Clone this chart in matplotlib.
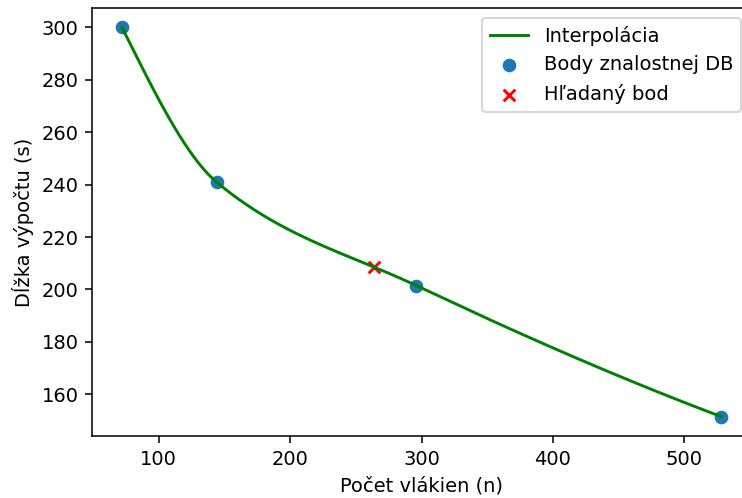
import numpy as np
import matplotlib
matplotlib.use("Agg")
import matplotlib.pyplot as plt

# body znalostnej databazy: pocet vlakien a dlzka vypoctu
vlakna = np.array([72, 144, 296, 528], dtype=float)
casy = np.array([300.0, 241.0, 201.5, 151.5])

# hladany pocet vlakien
hladane_vlakna = 264.0


def pchip_derivacie(x, y):
    h = np.diff(x)
    delta = np.diff(y) / h
    n = len(x)
    d = np.zeros(n)
    for k in range(1, n - 1):
        if delta[k - 1] * delta[k] <= 0:
            d[k] = 0.0
        else:
            w1 = 2 * h[k] + h[k - 1]
            w2 = h[k] + 2 * h[k - 1]
            d[k] = (w1 + w2) / (w1 / delta[k - 1] + w2 / delta[k])

    def koncova(h0, h1, m0, m1):
        dd = ((2 * h0 + h1) * m0 - h0 * m1) / (h0 + h1)
        if np.sign(dd) != np.sign(m0):
            dd = 0.0
        elif np.sign(m0) != np.sign(m1) and abs(dd) > abs(3 * m0):
            dd = 3 * m0
        return dd

    d[0] = koncova(h[0], h[1], delta[0], delta[1])
    d[-1] = koncova(h[-1], h[-2], delta[-1], delta[-2])
    return d


def pchip(x, y, xn):
    d = pchip_derivacie(x, y)
    xn = np.atleast_1d(xn).astype(float)
    idx = np.clip(np.searchsorted(x, xn) - 1, 0, len(x) - 2)
    h = x[idx + 1] - x[idx]
    t = (xn - x[idx]) / h
    h00 = 2 * t**3 - 3 * t**2 + 1
    h10 = t**3 - 2 * t**2 + t
    h01 = -2 * t**3 + 3 * t**2
    h11 = t**3 - t**2
    return h00 * y[idx] + h10 * h * d[idx] + h01 * y[idx + 1] + h11 * h * d[idx + 1]


x_hustota = np.linspace(vlakna.min(), vlakna.max(), 500)
y_hustota = pchip(vlakna, casy, x_hustota)
hladany_cas = pchip(vlakna, casy, hladane_vlakna)[0]

DPI = 140
fig = plt.figure(figsize=(742 / DPI, 498 / DPI), dpi=DPI)
ax = fig.add_axes([92 / 742, 62 / 498, (751 - 92) / 742, (436 - 8) / 498])

ax.plot(x_hustota, y_hustota, color="green", label="Interpolácia")
ax.scatter(vlakna, casy, label="Body znalostnej DB")
ax.scatter([hladane_vlakna], [hladany_cas], color="red", marker="x", label="Hľadaný bod")

ax.set_xlabel("Počet vlákien (n)")
ax.set_ylabel("Dĺžka výpočtu (s)")
ax.legend(loc="upper right")

fig.savefig("out.png", dpi=DPI)
